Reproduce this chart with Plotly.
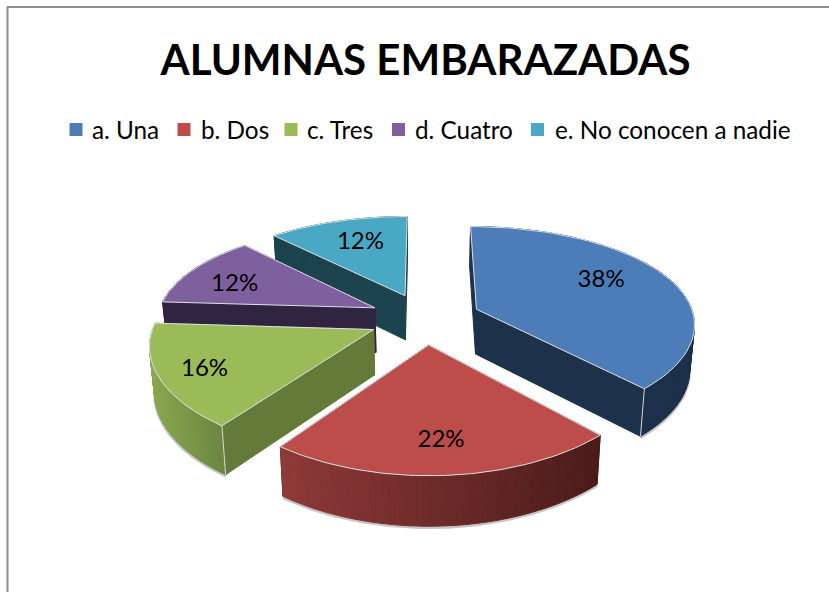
import numpy as np
import plotly.graph_objects as go

TITLE = "ALUMNAS EMBARAZADAS"
categories = ["a. Una", "b. Dos", "c. Tres", "d. Cuatro", "e. No conocen a nadie"]
values = [38, 22, 16, 12, 12]
top_colors = ["#4C7DB9", "#BC4D4A", "#9BBA58", "#7F609F", "#49A9C4"]
radial_colors = ["#1D314B", "#4A1C1B", "#647A38", "#302540", "#1C444E"]
arc_left = ["#1F3552", "#8E3A38", "#8AA84F", "#302540", "#1C444E"]
arc_right = ["#1C2F48", "#4A1B1A", "#6C8440", "#302540", "#1C444E"]
label_frac = [0.655, 0.76, 0.80, 0.74, 0.68]
label_dx = [-1, 0, 1, -4, 3]
label_dy = [-6, 2, 3, 6, 0]
legend_square_x = [76, 184, 291, 398.5, 537.5]
legend_text_x = [90, 198.5, 305, 413, 552.5]
LEGEND_Y = 129.5

CX, CY, SQ = 425.0, 318.5, 0.455
R, EXPLODE, KY, KX, DEPTH = 218.0, 56.0, 0.165, 0.13, 45.0
WALL_NARROW = 0.982
FONT = "Lato, Carlito, sans-serif"


def project(X, Y, z=0.0):
    Y = np.asarray(Y, dtype=float)
    X = np.asarray(X, dtype=float)
    sx = 1.0 / (1.0 - KX * Y / R)
    sy = 1.0 / (1.0 - KY * Y / R)
    narrow = WALL_NARROW if z else 1.0
    return CX + X * sx * narrow, CY + SQ * Y * sy + z * np.sqrt(sy)


total = sum(values)
edges = np.concatenate([[0], np.cumsum(values)]) / total * 2 * np.pi


def mix(c1, c2, f):
    a = [int(c1[i:i + 2], 16) for i in (1, 3, 5)]
    b = [int(c2[i:i + 2], 16) for i in (1, 3, 5)]
    return "rgb(%d,%d,%d)" % tuple(round(p + (q - p) * f) for p, q in zip(a, b))


fig = go.Figure()


def poly(x, y, fill, line=None, width=1.0):
    fig.add_trace(go.Scatter(
        x=list(x), y=list(y), mode="lines", fill="toself", fillcolor=fill,
        line=dict(color=line or fill, width=width),
        hoverinfo="skip", showlegend=False))


for i in [4, 3, 0, 2, 1]:
    t0, t1 = edges[i], edges[i + 1]
    mid = (t0 + t1) / 2
    ax, ay = EXPLODE * np.sin(mid), -EXPLODE * np.cos(mid)
    ts = np.linspace(t0, t1, 61)
    X = ax + R * np.sin(ts)
    Y = ay - R * np.cos(ts)
    tx, ty = project(X, Y)
    bx, by = project(X, Y, DEPTH)
    # soft shadow under the outer wall
    fig.add_trace(go.Scatter(
        x=list(bx), y=list(by + 1.5), mode="lines",
        line=dict(color="rgba(150,150,150,0.55)", width=2.5),
        hoverinfo="skip", showlegend=False))
    # radial walls
    for ex, ey in ((X[0], Y[0]), (X[-1], Y[-1])):
        x1, y1 = project([ax, ex], [ay, ey])
        x2, y2 = project([ax, ex], [ay, ey], DEPTH)
        poly([x1[0], x1[1], x2[1], x2[0], x1[0]],
             [y1[0], y1[1], y2[1], y2[0], y1[0]], radial_colors[i])
    # outer wall, shaded in strips
    lo, hi = tx.min(), tx.max()
    for j in range(len(ts) - 1):
        f = ((tx[j] + tx[j + 1]) / 2 - lo) / (hi - lo)
        poly([tx[j], tx[j + 1], bx[j + 1], bx[j], tx[j]],
             [ty[j], ty[j + 1], by[j + 1], by[j], ty[j]],
             mix(arc_left[i], arc_right[i], f))
    # top face
    px, py = project(np.r_[ax, X, ax], np.r_[ay, Y, ay])
    poly(px, py, top_colors[i], "#DDE1E4", 1.0)
    # light corner of the front-facing edge
    if i in (0, 2):
        k = -1 if i == 0 else 0
        fig.add_trace(go.Scatter(
            x=[tx[k], bx[k]], y=[ty[k], by[k]], mode="lines",
            line=dict(color="#D5D8DC", width=1), hoverinfo="skip", showlegend=False))

# percentage labels
lx, ly, lt = [], [], []
for i, v in enumerate(values):
    mid = (edges[i] + edges[i + 1]) / 2
    r = EXPLODE + R * label_frac[i]
    a, b = project(r * np.sin(mid), -r * np.cos(mid))
    lx.append(float(a) + label_dx[i]); ly.append(float(b) + label_dy[i])
    lt.append("%d%%" % round(v / total * 100))
fig.add_trace(go.Scatter(x=lx, y=ly, mode="text", text=lt,
                         textfont=dict(family=FONT, size=24, color="#000000"),
                         hoverinfo="skip", showlegend=False))

# legend entries
for c, col, sx, txt in zip(categories, top_colors, legend_square_x, legend_text_x):
    fig.add_trace(go.Scatter(x=[sx], y=[LEGEND_Y], mode="markers", name=c,
                             marker=dict(symbol="square", size=13, color=col, line=dict(width=0)),
                             hoverinfo="name", showlegend=False))
    fig.add_annotation(x=txt, y=LEGEND_Y, xref="x", yref="y", text=c, showarrow=False,
                       xanchor="left", yanchor="middle",
                       font=dict(family=FONT, size=24.3, color="#000000"))

fig.update_layout(
    width=829, height=592, margin=dict(l=0, r=0, t=0, b=0),
    paper_bgcolor="#FFFFFF", plot_bgcolor="#FFFFFF", showlegend=False,
    xaxis=dict(range=[0, 829], visible=False, fixedrange=True),
    yaxis=dict(range=[592, 0], visible=False, fixedrange=True),
    title=dict(text="<b>" + TITLE + "</b>", x=425.5 / 829, xanchor="center", y=1 - 60 / 592, yanchor="middle",
               font=dict(family=FONT, size=42, color="#000000")),
    shapes=[dict(type="line", xref="paper", yref="paper", x0=7.5 / 829, x1=7.5 / 829, y0=0, y1=1 - 7 / 592,
                 line=dict(color="#8C8C8C", width=2)),
            dict(type="line", xref="paper", yref="paper", x0=7 / 829, x1=1, y0=1 - 7 / 592, y1=1 - 7 / 592,
                 line=dict(color="#8C8C8C", width=2))],
)
fig.write_html("out.html", config={"displayModeBar": False},
               post_script="document.body.style.margin='0';")
